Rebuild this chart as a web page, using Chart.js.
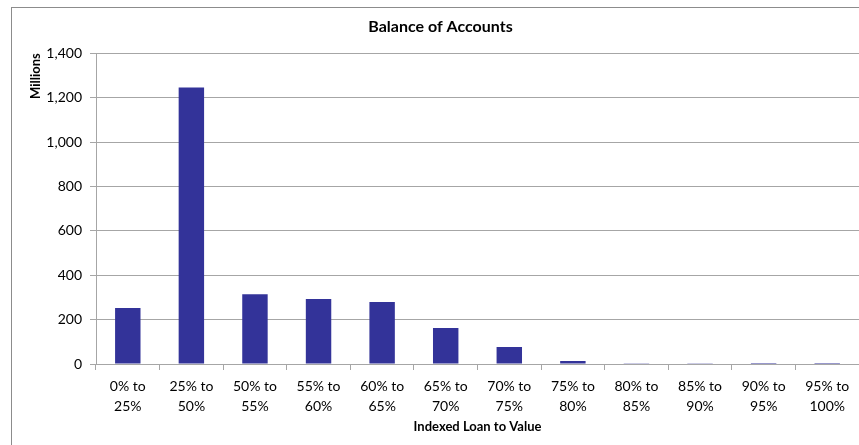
<!DOCTYPE html>
<html>
<head>
<meta charset="utf-8">
<script src="https://cdn.jsdelivr.net/npm/chart.js@4"></script>
<style>
  html, body { margin: 0; padding: 0; background: #fff; }
  #wrap { width: 859px; height: 445px; position: relative; }
</style>
</head>
<body>
<div id="wrap"><canvas id="chart" width="859" height="445"></canvas></div>
<script>
(() => {
  'use strict'

  const categories = [
    ['0% to', '25%'], ['25% to', '50%'], ['50% to', '55%'], ['55% to', '60%'],
    ['60% to', '65%'], ['65% to', '70%'], ['70% to', '75%'], ['75% to', '80%'],
    ['80% to', '85%'], ['85% to', '90%'], ['90% to', '95%'], ['95% to', '100%']
  ]
  const balances = [252, 1245, 314, 293, 279, 162, 77, 13, 3, 1.5, 0.4, 0.3]
  const yTicks = [0, 200, 400, 600, 800, 1000, 1200, 1400]

  const gray = '#a6a6a6'
  const font = 'Lato, Carlito, Calibri, sans-serif'

  // outer frame like the spreadsheet chart box
  const frame = {
    id: 'frame',
    beforeDraw(chart) {
      const c = chart.ctx
      c.save()
      c.fillStyle = '#fff'
      c.fillRect(0, 0, chart.width, chart.height)
      c.strokeStyle = '#8c8c8c'
      c.lineWidth = 1
      c.strokeRect(11.5, 7.5, 1000, 1000)
      c.restore()
    }
  }

  const ctx = document.getElementById('chart')
  new Chart(ctx, {
    type: 'bar',
    data: {
      labels: categories,
      datasets: [{
        label: 'Balance',
        data: balances,
        backgroundColor: '#333399',
        borderWidth: 0,
        barPercentage: 0.4,
        categoryPercentage: 1
      }]
    },
    options: {
      responsive: false,
      animation: false,
      layout: { padding: { left: 22, right: 0, top: 0, bottom: 0 } },
      plugins: {
        legend: { display: false },
        tooltip: { enabled: false },
        title: {
          display: true,
          text: 'Balance of Accounts',
          color: '#000',
          font: { family: font, size: 16, weight: 'bold' },
          padding: { top: 17, bottom: 17 }
        }
      },
      scales: {
        x: {
          afterFit(scale) { scale.height = 81 },
          grid: {
            drawOnChartArea: false,
            drawTicks: true,
            tickLength: 6,
            color: gray
          },
          border: { color: gray, width: 1 },
          ticks: {
            color: '#000',
            font: { family: font, size: 14, lineHeight: 1.4 },
            maxRotation: 0,
            padding: 7
          },
          title: {
            display: true,
            text: 'Indexed Loan to Value',
            color: '#000',
            font: { family: font, size: 13, weight: 'bold' },
            padding: { top: 0, bottom: 10 }
          }
        },
        y: {
          min: 0,
          max: 1400,
          afterFit(scale) { scale.width = 74 },
          afterBuildTicks(scale) { scale.ticks = yTicks.map(v => ({ value: v })) },
          grid: {
            color: gray,
            tickLength: 6
          },
          border: { color: gray, width: 1 },
          ticks: {
            color: '#000',
            font: { family: font, size: 14 },
            padding: 8,
            callback: v => v.toLocaleString('en-US')
          },
          title: {
            display: true,
            text: 'Millions',
            align: 'end',
            color: '#000',
            font: { family: font, size: 13, weight: 'bold' },
            padding: { top: 6, bottom: 0 }
          }
        }
      }
    },
    plugins: [frame]
  })
})()
</script>
</body>
</html>
